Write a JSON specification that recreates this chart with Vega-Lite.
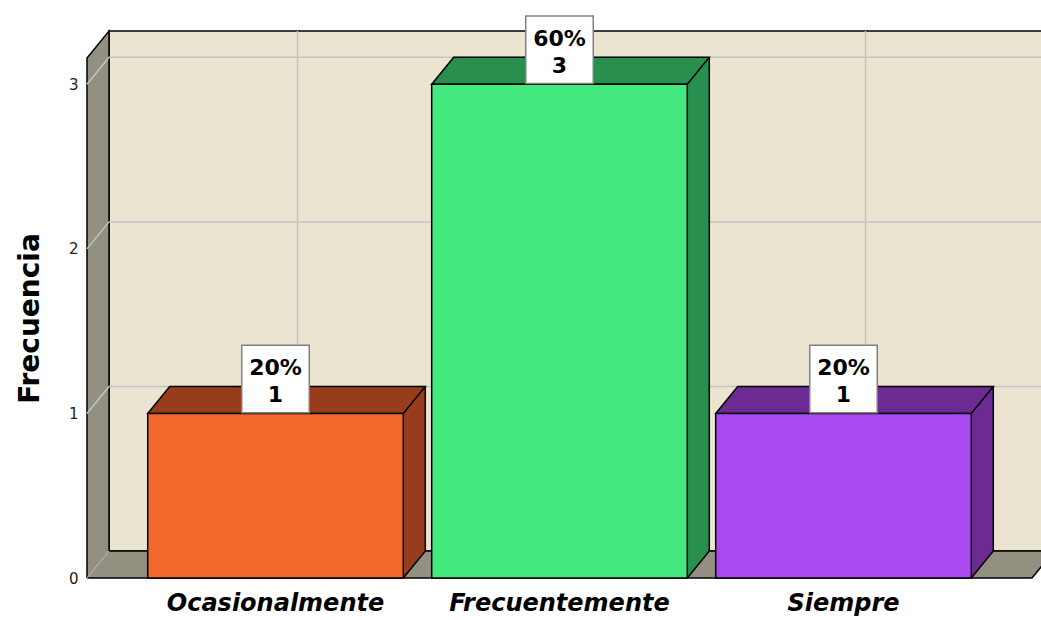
{
  "$schema": "https://vega.github.io/schema/vega-lite/v6.json",
  "width": 945,
  "height": 520,
  "autosize": {"type": "none"},
  "padding": {"left": 87, "top": 58, "right": 9, "bottom": 42},
  "background": "white",
  "config": {
    "view": {"stroke": null},
    "axisY": {
      "ticks": false,
      "grid": false,
      "domain": false,
      "labelFont": "DejaVu Sans",
      "labelFontSize": 15,
      "labelColor": "#222222",
      "labelPadding": 9,
      "titleFont": "DejaVu Sans",
      "titleFontSize": 28,
      "titleFontWeight": "bold",
      "titleColor": "black",
      "titleX": -57,
      "titleY": 260,
      "titleAngle": -90,
      "titleAlign": "center",
      "titleBaseline": "middle"
    },
    "axisX": {
      "title": null,
      "ticks": false,
      "grid": false,
      "domain": false,
      "labelAngle": 0,
      "labelLimit": 0,
      "labelFont": "DejaVu Sans",
      "labelFontSize": 24,
      "labelFontWeight": "bold",
      "labelFontStyle": "italic",
      "labelColor": "black",
      "labelPadding": 13
    }
  },
  "datasets": {
    "datos": [
      {"categoria": "Ocasionalmente", "frecuencia": 1, "porcentaje": "20%"},
      {"categoria": "Frecuentemente", "frecuencia": 3, "porcentaje": "60%"},
      {"categoria": "Siempre", "frecuencia": 1, "porcentaje": "20%"}
    ],
    "marcas": [{"v": 1}, {"v": 2}, {"v": 3}],
    "uno": [{"k": 0}]
  },
  "data": {"name": "datos"},
  "encoding": {
    "x": {
      "field": "categoria",
      "type": "nominal",
      "sort": null,
      "title": null,
      "scale": {"type": "band", "paddingInner": 0.1, "paddingOuter": 0.21375}
    }
  },
  "layer": [
    {
      "data": {"name": "uno"},
      "mark": {"type": "rect", "fill": "#EAE4D0", "stroke": "black", "strokeWidth": 1.5, "xOffset": 22, "x2Offset": 22, "yOffset": -27, "y2Offset": -27},
      "encoding": {
        "x": {"value": 0},
        "x2": {"value": "width"},
        "y": {"datum": 3.16, "type": "quantitative", "title": "Frecuencia", "axis": {"values": [0, 1, 2, 3]}, "scale": {"domain": [0, 3.16], "nice": false, "zero": true}},
        "y2": {"datum": 0}
      }
    },
    {
      "data": {"name": "uno"},
      "mark": {"type": "point", "shape": "M0,0L0,-520L22,-547L22,-27", "size": 4, "filled": true, "fill": "#938F81", "stroke": "black", "strokeWidth": 1.5, "opacity": 1},
      "encoding": {
        "x": {"value": 0},
        "y": {"datum": 0, "type": "quantitative", "title": "Frecuencia", "axis": {"values": [0, 1, 2, 3]}}
      }
    },
    {
      "data": {"name": "uno"},
      "mark": {"type": "point", "shape": "M0,0L945,0L967,-27L22,-27", "size": 4, "filled": true, "fill": "#938F81", "stroke": "black", "strokeWidth": 1.5, "opacity": 1},
      "encoding": {
        "x": {"value": 0},
        "y": {"datum": 0, "type": "quantitative", "title": "Frecuencia", "axis": {"values": [0, 1, 2, 3]}}
      }
    },
    {
      "data": {"name": "marcas"},
      "mark": {"type": "point", "shape": "M0,0L22,-27L967,-27", "size": 4, "filled": false, "stroke": "#C4C4C4", "strokeWidth": 1.5, "opacity": 1},
      "encoding": {
        "x": {"value": 0},
        "y": {"field": "v", "type": "quantitative", "title": "Frecuencia", "axis": {"values": [0, 1, 2, 3]}}
      }
    },
    {
      "mark": {"type": "rule", "stroke": "#C4C4C4", "strokeWidth": 1.5, "xOffset": 22, "yOffset": -27, "y2Offset": -27},
      "encoding": {
        "y": {"datum": 3.16, "type": "quantitative", "title": "Frecuencia", "axis": {"values": [0, 1, 2, 3]}},
        "y2": {"datum": 0}
      }
    },
    {
      "data": {"name": "uno"},
      "mark": {"type": "point", "shape": "M0,0L22,-27", "size": 4, "filled": false, "stroke": "#B8B8B8", "strokeWidth": 1, "opacity": 1},
      "encoding": {
        "x": {"value": 0},
        "y": {"datum": 0, "type": "quantitative", "title": "Frecuencia", "axis": {"values": [0, 1, 2, 3]}}
      }
    },
    {
      "mark": {"type": "bar", "xOffset": 22, "yOffset": -27, "y2Offset": -27, "strokeWidth": 0},
      "encoding": {
        "y": {"field": "frecuencia", "type": "quantitative", "title": "Frecuencia", "axis": {"values": [0, 1, 2, 3]}},
        "fill": {"field": "categoria", "type": "nominal", "legend": null, "scale": {"domain": ["Ocasionalmente", "Frecuentemente", "Siempre"], "range": ["#983D1C", "#288F4E", "#6B2B92"]}}
      }
    },
    {
      "mark": {"type": "point", "shape": "M-127.8,0L-105.8,-27L149.8,-27L127.8,0Z", "size": 4, "filled": true, "stroke": "black", "strokeWidth": 1.5, "opacity": 1},
      "encoding": {
        "y": {"field": "frecuencia", "type": "quantitative", "title": "Frecuencia", "axis": {"values": [0, 1, 2, 3]}},
        "fill": {"field": "categoria", "type": "nominal", "legend": null}
      }
    },
    {
      "mark": {"type": "point", "shape": "M127.8,0L149.8,-27L127.8,-27Z", "size": 4, "filled": true, "opacity": 1},
      "encoding": {
        "y": {"datum": 0, "type": "quantitative", "title": "Frecuencia", "axis": {"values": [0, 1, 2, 3]}},
        "fill": {"field": "categoria", "type": "nominal", "legend": null}
      }
    },
    {
      "mark": {"type": "rule", "stroke": "black", "strokeWidth": 1.5, "xOffset": 149.8, "yOffset": -27, "y2Offset": -27},
      "encoding": {
        "y": {"field": "frecuencia", "type": "quantitative", "title": "Frecuencia", "axis": {"values": [0, 1, 2, 3]}},
        "y2": {"datum": 0}
      }
    },
    {
      "mark": {"type": "point", "shape": "M127.8,0L149.8,-27", "size": 4, "filled": false, "stroke": "black", "strokeWidth": 1.5, "opacity": 1},
      "encoding": {
        "y": {"datum": 0, "type": "quantitative", "title": "Frecuencia", "axis": {"values": [0, 1, 2, 3]}}
      }
    },
    {
      "mark": {"type": "bar", "stroke": "black", "strokeWidth": 1.5},
      "encoding": {
        "y": {"field": "frecuencia", "type": "quantitative", "title": "Frecuencia", "axis": {"values": [0, 1, 2, 3]}},
        "color": {"field": "categoria", "type": "nominal", "legend": null, "scale": {"domain": ["Ocasionalmente", "Frecuentemente", "Siempre"], "range": ["#F2672B", "#43E97E", "#A94AF0"]}}
      }
    },
    {
      "mark": {"type": "point", "shape": "square", "size": 4560, "filled": true, "fill": "white", "stroke": "#808080", "strokeWidth": 1.5, "opacity": 1, "yOffset": -34.5},
      "encoding": {
        "y": {"field": "frecuencia", "type": "quantitative", "title": "Frecuencia", "axis": {"values": [0, 1, 2, 3]}}
      }
    },
    {
      "transform": [{"calculate": "datum.porcentaje + '\\n' + datum.frecuencia", "as": "etiqueta"}],
      "mark": {"type": "text", "font": "DejaVu Sans", "fontSize": 22, "fontWeight": "bold", "color": "black", "lineBreak": "\n", "lineHeight": 27, "baseline": "middle", "align": "center", "yOffset": -45},
      "encoding": {
        "y": {"field": "frecuencia", "type": "quantitative", "title": "Frecuencia", "axis": {"values": [0, 1, 2, 3]}},
        "text": {"field": "etiqueta"}
      }
    }
  ]
}
